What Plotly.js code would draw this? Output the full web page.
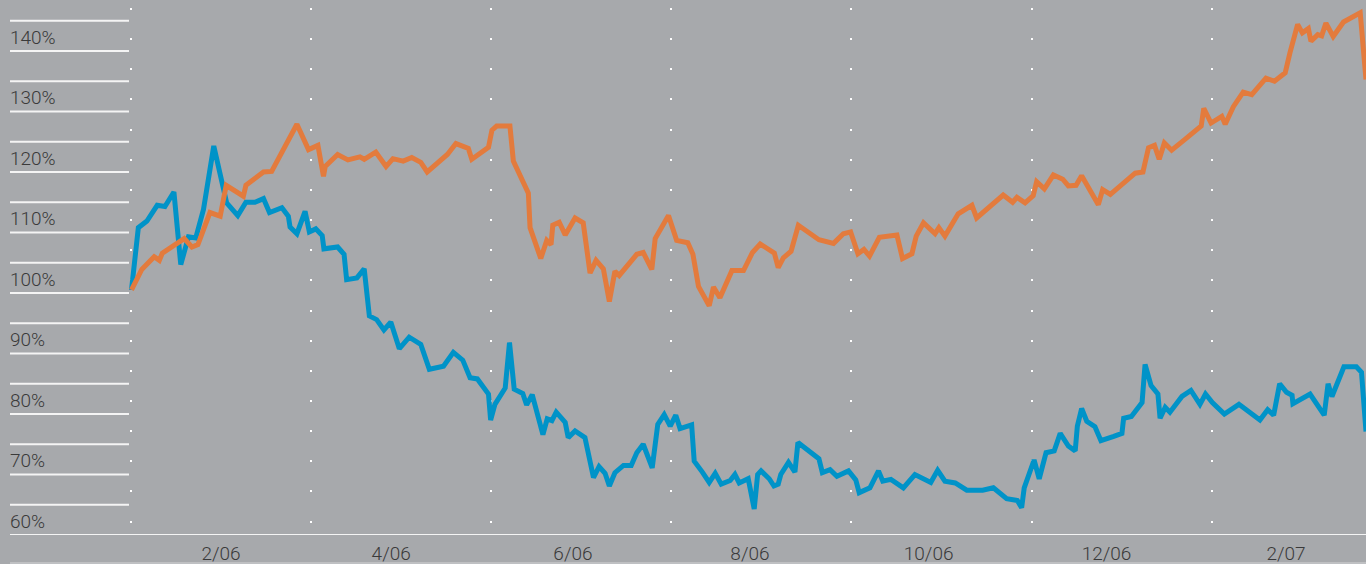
<!DOCTYPE html>
<html>
<head>
<meta charset="utf-8">
<script src="https://cdn.plot.ly/plotly-3.0.1.min.js"></script>
<style>html,body{margin:0;padding:0;background:#a7a9ac;}#chart{width:1366px;height:564px;}</style>
</head>
<body>
<div id="chart"></div>
<script>
// x = trading-day index from start of series (42 trading days = 2 months)
const blueDay = [0,1.6,3.6,6.0,7.8,9.9,11.5,13.3,15.0,16.8,19.2,22.2,24.8,26.7,28.8,30.8,32.2,35.1,36.6,37.0,38.6,40.5,41.5,43.0,44.5,44.9,48.1,49.6,50.2,52.6,54.3,55.5,57.2,58.9,60.5,62.5,64.8,67.5,69.5,72.8,75.1,77.3,79.0,80.7,83.3,83.8,84.8,87.2,88.2,89.3,91.3,92.2,93.5,96.0,97.0,98.1,99.1,101.2,101.9,103.5,105.8,107.8,109.1,110.5,111.5,112.8,114.8,116.6,117.9,119.4,121.5,122.8,124.3,125.7,127.0,128.0,130.7,131.3,133.2,134.8,136.2,137.6,139.7,140.8,141.8,143.9,145.3,146.1,146.9,148.8,149.9,150.9,151.5,153.3,154.8,155.5,160.4,161.2,163.0,164.6,167.3,169.0,169.8,171.2,172.3,174.3,175.3,177.2,180.1,182.8,186.5,188.1,189.8,192.2,194.9,198.6,201.1,204.2,206.7,207.7,208.3,210.6,211.8,213.4,215.3,216.7,218.6,220.2,220.7,221.7,222.9,224.8,226.2,229.2,231.1,231.5,233.3,235.8,236.5,237.9,239.5,240.0,241.2,242.3,245.1,247.2,249.3,250.6,252.2,255.0,258.4,263.3,265.1,266.5,267.9,269.5,270.8,271.0,275.0,278.3,279.2,280.1,282.9,285.8,287.0,288.05];
const blueVal = [100.5,110.8,111.9,114.5,114.3,116.7,104.7,109.3,109.1,113.8,124.3,114.9,112.8,115.0,115.0,115.6,113.3,114.1,112.7,110.9,109.8,113.5,110.1,110.6,109.5,107.3,107.6,106.4,102.2,102.5,104.0,96.2,95.6,93.9,95.2,90.8,92.7,91.5,87.4,87.9,90.2,88.9,86.0,85.8,83.3,79.0,81.6,84.3,91.8,84.1,83.4,81.5,83.2,76.6,79.2,78.9,80.3,78.6,76.1,77.2,76.1,69.5,71.3,70.2,68.1,70.3,71.5,71.5,73.6,75.0,71.1,78.3,79.9,78.0,79.8,77.6,78.2,72.2,70.4,68.7,70.2,68.4,69.0,70.0,68.6,69.3,64.3,70.0,70.6,69.3,68.1,68.4,70.0,72.0,70.4,75.3,72.6,70.3,70.8,69.7,70.6,69.1,67.0,67.5,67.8,70.6,68.9,69.2,67.8,70.0,68.7,70.7,68.9,68.6,67.4,67.4,67.8,66.0,65.7,64.5,67.8,72.4,69.3,73.6,73.9,76.8,74.7,73.9,78.0,80.9,78.8,77.9,75.6,76.3,76.8,79.3,79.6,81.9,88.2,84.7,83.3,79.3,81.1,80.3,82.9,83.9,81.6,83.3,81.9,80.0,81.6,79.0,80.7,79.8,85.0,83.6,83.1,81.7,83.3,79.8,85.0,82.9,87.8,87.8,86.9,77.1];

const orangeDay = [0,2.4,5.3,6.5,7.2,12.3,14.1,15.5,18.3,20.7,22.1,26.1,26.7,30.8,32.7,38.6,41.3,43.5,44.8,45.2,48.1,50.5,53.3,54.3,57.0,59.4,61.0,63.4,65.4,67.5,69.0,73.7,75.7,78.6,79.4,83.3,84.1,85.2,88.3,89.1,92.6,93.0,95.5,96.9,97.9,98.3,99.8,101.2,103.5,105.4,107.0,108.4,110.1,111.5,112.8,113.8,117.9,119.4,121.4,122.2,125.3,127.2,129.8,131.0,132.3,134.8,135.8,137.3,140.1,142.8,144.9,146.7,150.0,150.9,152.1,153.9,155.6,160.4,163.8,166.1,167.8,169.5,170.9,172.2,174.5,178.6,179.9,182.1,183.1,184.8,187.5,188.4,189.8,192.9,196.1,197.2,203.4,205.6,206.6,208.5,210.4,211.2,213.0,215.1,217.3,218.6,220.4,221.7,225.6,226.6,228.4,234.2,236.0,237.3,238.7,239.8,241.0,242.7,245.8,249.6,250.2,251.9,254.4,255.2,257.1,259.4,261.4,264.7,266.7,269.2,270.3,272.1,273.2,274.6,275.2,276.8,277.7,278.7,280.4,282.8,286.7,288.05];
const orangeVal = [100.5,103.9,106.0,105.4,106.6,109.0,107.6,108.0,113.3,112.7,117.8,116.0,117.8,120.0,120.1,127.9,123.7,124.4,119.3,120.9,122.9,122.0,122.5,122.1,123.3,120.9,122.2,121.8,122.4,121.6,120.0,122.9,124.7,123.9,122.1,124.1,126.9,127.6,127.6,121.8,116.5,110.8,105.7,108.7,108.0,111.2,111.7,109.6,112.4,111.6,103.3,105.4,104.0,98.6,103.6,102.9,106.4,106.7,103.9,109.0,112.8,108.7,108.3,106.4,101.1,97.9,101.0,99.2,103.7,103.7,106.7,108.1,106.6,104.2,105.8,106.9,111.2,108.8,108.2,109.8,110.1,106.5,107.2,106.1,109.2,109.6,105.7,106.5,109.4,111.6,109.8,110.8,109.4,113.1,114.5,112.4,116.2,115.0,115.8,114.9,116.1,118.4,117.2,119.5,118.8,117.7,117.8,119.4,114.6,117.1,116.3,119.8,120.0,124.0,124.4,122.1,124.8,123.6,125.4,127.6,130.5,128.1,129.2,127.9,130.8,133.2,132.8,135.5,135.0,136.4,139.7,144.4,143.0,143.7,141.6,142.7,142.5,144.6,142.4,144.8,146.3,135.3];

const xTickVals = [20.9, 60.6, 103.0, 144.3, 186.0, 227.5, 269.4];
const xTickText = ['2/06','4/06','6/06','8/06','10/06','12/06','2/07'];
const yTickVals = [60,70,80,90,100,110,120,130,140];
const yTickText = ['60%','70%','80%','90%','100%','110%','120%','130%','140%'];
const ruleVals = [60,65,70,75,80,85,90,95,100,105,110,115,120,125,130,135,140,145];

const BG = '#a7a9ac';
const TXT = '#3a3a3a';
const FONT = 'Roboto, "Liberation Sans", Arial, sans-serif';

const traces = [
  {x: blueDay, y: blueVal, type: 'scatter', mode: 'lines', name: 'blue',
   line: {color: '#0093c8', width: 5, shape: 'linear'}, hoverinfo: 'skip'},
  {x: orangeDay, y: orangeVal, type: 'scatter', mode: 'lines', name: 'orange',
   line: {color: '#e37b3d', width: 5, shape: 'linear'}, hoverinfo: 'skip'}
];

const shapes = ruleVals.map(v => ({
  type: 'line', xref: 'paper', yref: 'y', layer: 'below',
  x0: 10/1366, x1: v === 60 ? 1 : 129/1366, y0: v, y1: v,
  line: {color: '#f4f4f4', width: 2}
}));
shapes.push({type: 'line', xref: 'paper', yref: 'paper', layer: 'below',
  x0: 10/1366, x1: 1, y0: -28/535, y1: -28/535, line: {color: '#d6d7d9', width: 1}});

const layout = {
  width: 1366, height: 564,
  margin: {l: 0, r: 0, t: 0, b: 29, pad: 0},
  paper_bgcolor: BG, plot_bgcolor: BG,
  showlegend: false, hovermode: false,
  font: {family: FONT, color: TXT, size: 19, weight: 300},
  xaxis: {
    range: [-30.68, 288.05], showgrid: false, zeroline: false, showline: false,
    ticks: '', tickmode: 'array', tickvals: xTickVals, ticktext: xTickText,
    tickfont: {family: FONT, size: 19, color: TXT, weight: 300},
    ticklabelstandoff: 5,
    minor: {tick0: 0, dtick: 42, showgrid: true, gridcolor: '#ffffff', gridwidth: 2,
            griddash: '0px,8px,2px,20.15px', ticks: ''}
  },
  yaxis: {
    range: [60, 148.43], showgrid: false, zeroline: false, showline: false,
    ticks: '', tickmode: 'array', tickvals: yTickVals, ticktext: yTickText,
    ticklabelposition: 'inside', ticklabelshift: -14, ticklabelstandoff: 7,
    tickfont: {family: FONT, size: 19, color: TXT, weight: 300}
  },
  shapes: shapes
};

Plotly.newPlot('chart', traces, layout, {displayModeBar: false, staticPlot: true});
</script>
</body>
</html>
